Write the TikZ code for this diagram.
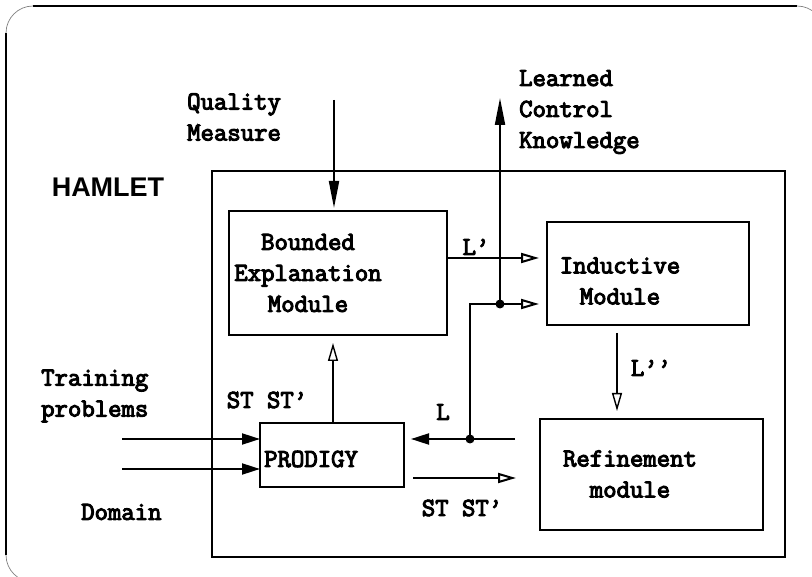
\documentclass[tikz,border=0pt]{standalone}
\usepackage{fontspec}
\setsansfont{Liberation Sans}
\newfontfamily\courbf{Latin Modern Mono}[AutoFakeBold=4]
\usetikzlibrary{arrows.meta}
\tikzset{
  box/.style={draw, line width=2.3pt, inner sep=0pt},
  txt/.style={font=\fontsize{26}{31}\selectfont\courbf\bfseries, inner sep=0pt},
  ln/.style={line width=2pt},
  thinln/.style={line width=1.4pt},
  fillhead/.style={-{Triangle[length=18pt,width=11pt]}},
  longhead/.style={-{Triangle[length=27pt,width=10pt]}},
  openhead/.style={-{Triangle[open,length=18pt,width=10pt,fill=white]}},
  jdot/.style={circle, fill=black, inner sep=0pt, minimum size=9pt},
}
\begin{document}
\begin{tikzpicture}[x=1pt,y=-1pt]
\useasboundingbox (0,0) rectangle (812,577);
% outer slide frame
\begin{scope}
\clip (0,0) rectangle (812,577);
\draw[line width=2pt] (33,6) -- (797,6);
\draw[line width=2pt] (6,33) -- (6,555);
\draw[line width=0.7pt, gray] (6,33) arc[start angle=180, end angle=270, radius=27];
\draw[line width=0.7pt, gray] (797,6) arc[start angle=270, end angle=360, radius=27];
\draw[line width=0.7pt, gray] (6,555) arc[start angle=180, end angle=90, radius=27];
\end{scope}
% boxes
\node[box, minimum width=573pt, minimum height=386pt] (hamlet) at (498.5,364) {};
\node[box, minimum width=218pt, minimum height=124pt] (bem) at (338,273) {};
\node[box, minimum width=202pt, minimum height=103pt] (ind) at (648,273.5) {};
\node[box, minimum width=144pt, minimum height=64pt] (prod) at (332,455) {};
\node[box, minimum width=223pt, minimum height=111pt] (ref) at (651.5,474.5) {};
% texts
\node[font=\fontsize{27}{30}\selectfont\sffamily\bfseries, inner sep=0pt] (hamlett) at (108,187) {HAMLET};
\node[txt, align=center] (bemt) at (308,273) {Bounded\\Explanation\\Module};
\node[txt, align=center] (indt) at (620,281) {Inductive\\ Module};
\node[txt, anchor=west] (prodt) at (264,459) {PRODIGY};
\node[txt, align=center] (reft) at (630,474) {Refinement\\module};
\node[txt, align=left, anchor=west] (lck) at (519,112) {Learned\\Control\\Knowledge};
\node[txt, align=left, anchor=west] (qm) at (187,117) {Quality\\Measure};
\node[txt, align=left, anchor=west] (tp) at (41,396) {Training\\problems};
\node[txt, anchor=west] (dom) at (81,512) {Domain};
\node[txt] (l1) at (476,247) {L’};
\node[txt] (l2) at (651,368) {L’’};
\node[txt] (l0) at (443,412) {L};
\node[txt] (st1) at (267,400) {ST ST’};
\node[txt] (st2) at (462,508) {ST ST’};
% coordinates
\coordinate (qs) at (334,100);
\coordinate (qe) at (334,208);
\coordinate (lps) at (447,258);
\coordinate (lpe) at (539,258);
\coordinate (jt) at (500,304);
\coordinate (lce) at (500,98);
\coordinate (jb) at (470,439);
\coordinate (ce) at (470,304);
\coordinate (lie) at (539,304);
\coordinate (ls) at (515,439);
\coordinate (le) at (411,439);
\coordinate (t1) at (122,439);
\coordinate (t1e) at (260,439);
\coordinate (t2) at (122,469);
\coordinate (t2e) at (260,469);
\coordinate (ss) at (413,478);
\coordinate (se) at (516,478);
\coordinate (ps) at (333,423);
\coordinate (pe) at (333,343);
\coordinate (ds) at (617,333);
\coordinate (de) at (617,411);
% connectors
\draw[ln, longhead] (qs) -- (qe);
\draw[ln, openhead] (lps) -- (lpe);
\draw[ln, longhead] (jt) -- (lce);
\draw[ln] (jb) -- (ce) -- (jt);
\draw[ln, openhead] (jt) -- (lie);
\draw[ln, fillhead] (ls) -- (le);
\draw[ln, fillhead] (t1) -- (t1e);
\draw[ln, fillhead] (t2) -- (t2e);
\draw[ln, openhead] (ss) -- (se);
\draw[thinln, openhead] (ps) -- (pe);
\draw[thinln, openhead] (ds) -- (de);
\node[jdot] (d1) at (jt) {};
\node[jdot] (d2) at (jb) {};
\end{tikzpicture}
\end{document}
